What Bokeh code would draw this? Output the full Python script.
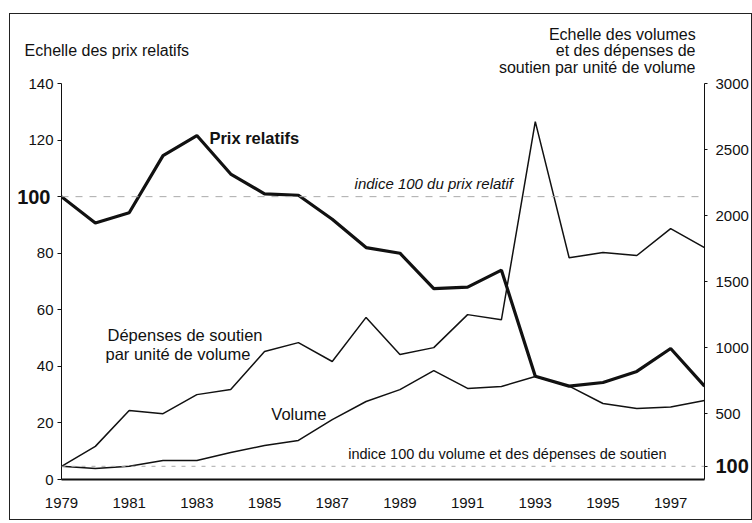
from bokeh.plotting import figure
from bokeh.models import LinearAxis, Range1d, Span, Label, FixedTicker
from bokeh.embed import file_html
from bokeh.resources import INLINE

years = list(range(1979, 1999))
prix_relatifs = [100, 90.7, 94.3, 114.5, 121.6, 108, 101, 100.5, 92, 82,
                 80, 67.5, 68, 74, 36.5, 33, 34.3, 38.2, 46.3, 33]
# volume and support spending, index 1979 = 100 (right-hand scale)
volume = [100, 84, 101, 144, 144, 204, 257, 296, 454, 591,
          681, 825, 690, 705, 780, 707, 576, 538, 549, 598]
depenses = [100, 251, 523, 499, 643, 681, 969, 1037, 894, 1228,
            947, 999, 1249, 1211, 2711, 1680, 1719, 1697, 1901, 1757]
left_ticks = [0, 20, 40, 60, 80, 100, 120, 140]
right_ticks = [100, 500, 1000, 1500, 2000, 2500, 3000]
year_ticks = [1979, 1981, 1983, 1985, 1987, 1989, 1991, 1993, 1995, 1997]

FONT = "Liberation Sans"
INK = "#111111"

p = figure(frame_width=643, frame_height=396,
           x_range=Range1d(1979, 1998), y_range=Range1d(0, 140),
           output_backend="svg", toolbar_location=None,
           min_border_left=51, min_border_right=45,
           min_border_top=69, min_border_bottom=40)
p.title.visible = False
p.extra_y_ranges = {"vol": Range1d(0, 3000)}
p.styles = {"border": "1px solid #222", "margin-left": "9px", "margin-top": "13px"}
p.outline_line_color = None
p.xgrid.visible = False
p.ygrid.visible = False
p.background_fill_color = "white"
p.border_fill_color = "white"

# x axis
xa = p.xaxis[0]
xa.ticker = FixedTicker(ticks=year_ticks)
xa.major_tick_line_color = None
xa.minor_tick_line_color = None
xa.axis_line_width = 2
xa.axis_line_color = INK
xa.major_label_text_font = FONT
xa.major_label_text_font_size = "15px"
xa.major_label_text_color = INK
xa.major_label_standoff = 12

# left axis
ya = p.yaxis[0]
ya.ticker = FixedTicker(ticks=left_ticks)
ya.major_label_overrides = {100: ""}
ya.minor_tick_line_color = None
ya.major_tick_in = 0
ya.major_tick_out = 4
ya.axis_line_color = INK
ya.major_tick_line_color = INK
ya.major_label_text_font = FONT
ya.major_label_text_font_size = "15px"
ya.major_label_text_color = INK
ya.major_label_standoff = 4

# right axis
ra = LinearAxis(y_range_name="vol", ticker=FixedTicker(ticks=right_ticks))
ra.major_label_overrides = {100: ""}
ra.minor_tick_line_color = None
ra.major_tick_in = 0
ra.major_tick_out = 3
ra.axis_line_color = INK
ra.major_tick_line_color = INK
ra.major_label_text_font = FONT
ra.major_label_text_font_size = "15px"
ra.major_label_text_color = INK
ra.major_label_standoff = 8
p.add_layout(ra, "right")

def bare_axis(side, ticks, texts, standoff, size, style="normal", **kw):
    ax = LinearAxis(ticker=FixedTicker(ticks=ticks),
                    major_label_overrides=dict(zip(ticks, texts)),
                    axis_line_color=None, major_tick_line_color=None,
                    minor_tick_line_color=None, major_tick_in=0, major_tick_out=0,
                    major_label_standoff=standoff, major_label_text_font=FONT,
                    major_label_text_font_size=size, major_label_text_font_style=style,
                    major_label_text_color=INK, **kw)
    p.add_layout(ax, side)

# bold "100" tick labels, pulled next to the main axes
bare_axis("left", [100], ["100"], -25, "20px", style="bold")
bare_axis("right", [100], ["100"], -36, "20px", style="bold", y_range_name="vol")

# axis titles (centres in years along the top edge)
bare_axis("above", [1994.83], ["soutien par unité de volume"], 8, "16px")
bare_axis("above", [1980.34, 1995.67], ["Echelle des prix relatifs", "et des dépenses de"], -3, "16px")
bare_axis("above", [1995.57], ["Echelle des volumes"], -4, "16px")

# reference lines
p.add_layout(Span(location=100, dimension="width", line_color="#aaaaaa",
                  line_width=1, line_dash="7 7"))
p.add_layout(Span(location=100, dimension="width", y_range_name="vol",
                  line_color="#aaaaaa", line_width=1, line_dash="4 6"))

# series
p.line(years, depenses, y_range_name="vol", line_color=INK, line_width=1.5)
p.line(years, volume, y_range_name="vol", line_color=INK, line_width=1.5)
p.line(years, prix_relatifs, line_color=INK, line_width=3.2)

def lab(x, y, text, size, align="left", baseline="middle", style="normal", **kw):
    p.add_layout(Label(x=x, y=y, text=text, text_font=FONT, text_font_size=size,
                       text_align=align, text_baseline=baseline,
                       text_font_style=style, text_color=INK, **kw))

# series labels
lab(1983.37, 120.8, "Prix relatifs", "16.5px", style="bold")
lab(1980.36, 51.2, "Dépenses de soutien", "16.5px")
lab(1980.30, 44.2, "par unité de volume", "16.5px")
lab(1985.2, 23.3, "Volume", "16.5px")
lab(1990.0, 100, "indice 100 du prix relatif", "15px", align="center",
    baseline="bottom", style="italic", y_offset=5)
lab(1996.88, 100, "indice 100 du volume et des dépenses de soutien", "14.5px",
    align="right", baseline="bottom", y_offset=4, y_range_name="vol")

open("out.html", "w").write(file_html(p, INLINE))
